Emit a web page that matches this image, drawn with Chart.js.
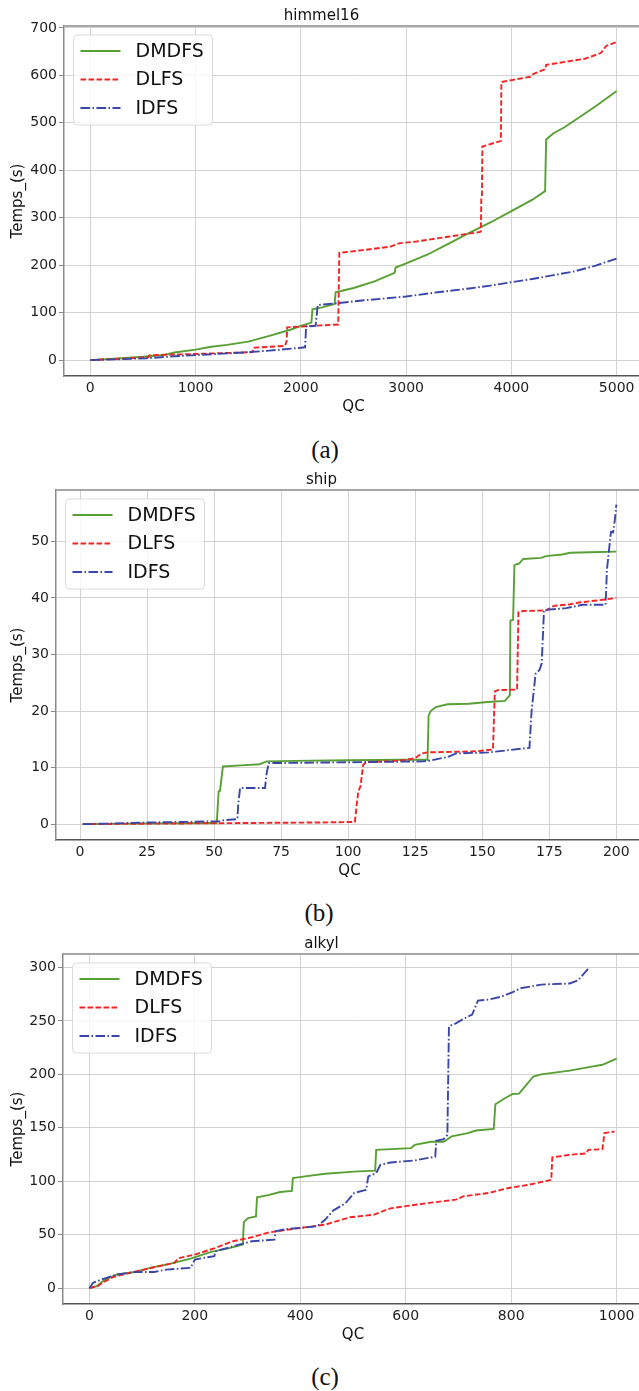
<!DOCTYPE html>
<html>
<head>
<meta charset="utf-8">
<title>himmel16 / ship / alkyl</title>
<script src="https://cdn.jsdelivr.net/npm/chart.js@4.4.1/dist/chart.umd.min.js"></script>
<style>
  html, body { margin: 0; padding: 0; background: #fff; overflow: hidden; }
  body { width: 639px; height: 1391px; position: relative; }
  .plot { position: absolute; left: 0; width: 643px; height: 416px; }
  .caption {
    position: absolute;
    font-family: "Liberation Serif", "DejaVu Serif", serif;
    font-size: 25px;
    color: #111;
    transform: translate(-50%, -50%);
    white-space: nowrap;
  }
</style>
</head>
<body>
<div class="plot" style="top:0px"><canvas id="himmel"></canvas></div>
<div class="caption" style="left:325px;top:450px">(a)</div>
<div class="plot" style="top:464px"><canvas id="ship"></canvas></div>
<div class="caption" style="left:319px;top:913px">(b)</div>
<div class="plot" style="top:928px"><canvas id="alkyl"></canvas></div>
<div class="caption" style="left:325px;top:1377px">(c)</div>

<script>
// ---- himmel16 ----
var himmelXTicks = [0, 1000, 2000, 3000, 4000, 5000];
var himmelYTicks = [0, 100, 200, 300, 400, 500, 600, 700];
var himmelDmdfsQc = [0, 150, 300, 500, 700, 800, 1000, 1150, 1300, 1500, 1700, 1900, 2000, 2100, 2110, 2200, 2320, 2330, 2500, 2700, 2890, 2900, 3000, 3200, 3400, 3600, 3800, 4000, 4200, 4320, 4330, 4400, 4500, 4600, 4800, 5000];
var himmelDmdfsTime = [0, 2, 4, 7, 11, 16, 22, 28, 32, 39, 51, 64, 72, 79, 107, 111, 118, 143, 152, 166, 184, 195, 204, 222, 245, 268, 290, 314, 338, 356, 465, 478, 490, 505, 535, 567];
var himmelDlfsQc = [0, 300, 550, 560, 1000, 1450, 1540, 1550, 1850, 1865, 1870, 2100, 2355, 2365, 2600, 2850, 2930, 3100, 3400, 3700, 3710, 3714, 3720, 3724, 3900, 3905, 4000, 4180, 4210, 4320, 4330, 4700, 4850, 4900, 5000];
var himmelDlfsTime = [0, 3, 6, 10, 13, 16, 17, 26, 30, 40, 69, 72, 75, 226, 232, 239, 246, 250, 260, 270, 271, 340, 345, 450, 462, 586, 590, 597, 603, 613, 622, 635, 647, 662, 670];
var himmelIdfsQc = [0, 300, 534, 800, 1000, 1200, 1462, 1700, 2000, 2040, 2050, 2140, 2160, 2350, 2600, 2800, 3000, 3300, 3600, 3800, 4000, 4200, 4400, 4600, 4800, 5000];
var himmelIdfsTime = [0, 2, 4, 8, 10.5, 13, 16, 20, 26, 27, 71, 72, 116, 120, 126, 130, 134, 143, 151, 157, 164, 171, 179, 187, 199, 214];

// ---- ship ----
var shipXTicks = [0, 25, 50, 75, 100, 125, 150, 175, 200];
var shipYTicks = [0, 10, 20, 30, 40, 50];
var shipDmdfsQc = [1, 20, 50, 51, 51.7, 52.2, 53.3, 60, 67, 69.6, 80, 100, 120, 129.6, 130, 130.8, 132.7, 137, 145, 152, 158.5, 159.5, 160.3, 160.5, 161.5, 162, 163.8, 165.3, 172, 173.7, 179.8, 182.8, 190, 200];
var shipDmdfsTime = [0, 0.1, 0.2, 0.2, 5.8, 5.9, 10.2, 10.4, 10.6, 11.1, 11.2, 11.3, 11.4, 11.4, 19.2, 20, 20.7, 21.2, 21.3, 21.6, 21.8, 22.4, 22.8, 36, 36.1, 45.8, 46.1, 46.9, 47.1, 47.4, 47.7, 48, 48.1, 48.2];
var shipDlfsQc = [1, 30, 60, 90, 102.5, 103.2, 103.8, 104.6, 105.6, 106.8, 115, 122, 125, 127.4, 129.6, 140, 148, 154, 154.7, 155.8, 163, 163.5, 165.3, 173.7, 176.7, 182.8, 186, 193.5, 200];
var shipDlfsTime = [0, 0.1, 0.2, 0.3, 0.4, 3.5, 5.8, 6.7, 10.5, 11, 11.1, 11.4, 11.7, 12.5, 12.7, 12.8, 12.9, 13.2, 23.5, 23.7, 23.8, 37.5, 37.7, 37.8, 38.6, 38.9, 39.2, 39.6, 40];
var shipIdfsQc = [1, 10, 25, 40, 50, 52.5, 53.6, 58.7, 59, 59.7, 69, 69.6, 70.4, 90, 110, 128, 131, 137.2, 140.3, 152.4, 160, 167.6, 168.4, 169.9, 171.4, 172.2, 173, 173.7, 181.3, 187.4, 196, 196.5, 198, 198.8, 199.5, 200];
var shipIdfsTime = [0, 0.1, 0.3, 0.4, 0.5, 0.5, 0.7, 0.9, 3.5, 6.4, 6.4, 9, 10.8, 10.9, 11, 11.1, 11.3, 11.9, 12.5, 12.7, 13.1, 13.5, 20, 26.6, 27.3, 28.5, 37.6, 37.9, 38.2, 38.8, 38.8, 45, 51.7, 51.6, 54, 56.5];

// ---- alkyl ----
var alkylXTicks = [0, 200, 400, 600, 800, 1000];
var alkylYTicks = [0, 50, 100, 150, 200, 250, 300];
var alkylDmdfsQc = [0, 15, 22, 30, 53, 84, 115, 154, 192, 231, 262, 291, 293, 301, 316, 318, 339, 362, 384, 386, 416, 447, 502, 542, 544, 610, 617, 648, 672, 687, 718, 733, 767, 770, 788, 803, 815, 826, 842, 857, 911, 950, 973, 1000];
var alkylDmdfsTime = [0, 2, 5, 8, 12.8, 15, 19, 23, 27.7, 34, 37, 40.8, 62, 65.6, 67, 85, 87, 90, 91, 103, 105, 107, 109, 110, 129.4, 131, 134, 137, 137, 142, 145, 147.5, 149, 172, 177.7, 181.7, 182, 188.5, 198, 200, 203.5, 207, 209, 214.7];
var alkylDlfsQc = [0, 15, 30, 46, 84, 123, 161, 169, 200, 239, 270, 308, 339, 386, 447, 494, 540, 571, 648, 695, 710, 757, 795, 834, 876, 878, 911, 942, 946, 973, 977, 996];
var alkylDlfsTime = [0, 2, 6.5, 10.6, 15.2, 19.6, 23.6, 28, 31.4, 37.6, 43.6, 47.6, 52, 55.4, 59.4, 66.3, 68.8, 74.7, 80, 82.8, 86, 89, 93.7, 96.8, 101.4, 122.3, 124.8, 126, 129.4, 130, 145, 146.5];
var alkylIdfsQc = [0, 7, 22, 53, 84, 123, 146, 192, 200, 216, 237, 239, 277, 308, 351, 353, 370, 432, 447, 463, 486, 502, 525, 529, 544, 552, 571, 617, 656, 658, 672, 679, 682, 695, 710, 726, 737, 757, 780, 803, 818, 857, 911, 927, 946];
var alkylIdfsTime = [0, 5, 8, 12.8, 15, 15.2, 17.4, 19, 26.8, 28.3, 30, 34.5, 39.8, 43.9, 45.4, 53.2, 55, 57.9, 64, 72.8, 79.6, 89, 92, 104.5, 107.7, 115.4, 117.6, 119.5, 123, 137.8, 139.4, 143.4, 245, 247.7, 252, 256, 269, 270, 272.5, 277, 280.6, 284, 285, 288, 298.7];

var seriesNames = ['DMDFS', 'DLFS', 'IDFS'];
var seriesColors = ['#58a033', '#f42424', '#3a46a8'];
var seriesDashes = [[], [5.6, 2.4], [9.6, 2.4, 1.6, 2.4]];

Chart.defaults.font.family = '"DejaVu Sans", sans-serif';
Chart.defaults.color = '#1e1e1e';

function toPoints(qc, time) {
    return qc.map(function (q, i) { return { x: q, y: time[i] }; });
}

// top spine of the axes
var topSpine = {
    id: 'topSpine',
    afterDatasetsDraw: function (chart) {
        var ctx = chart.ctx, a = chart.chartArea;
        ctx.save();
        ctx.strokeStyle = '#a6a6a6';
        ctx.lineWidth = 2;
        ctx.beginPath();
        ctx.moveTo(a.left, a.top);
        ctx.lineTo(a.right, a.top);
        ctx.stroke();
        ctx.restore();
    }
};

// legend box drawn inside the plot, upper left
var legendInside = {
    id: 'legendInside',
    afterDatasetsDraw: function (chart) {
        var ctx = chart.ctx, a = chart.chartArea;
        var left = a.left + 9.5, top = a.top + 9;
        ctx.save();
        ctx.beginPath();
        ctx.roundRect(left, top, 139, 90, 4);
        ctx.fillStyle = 'rgba(255,255,255,0.8)';
        ctx.fill();
        ctx.strokeStyle = '#dadada';
        ctx.lineWidth = 1;
        ctx.stroke();
        chart.data.datasets.forEach(function (ds, i) {
            var y = top + 16 + i * 28.5;
            ctx.beginPath();
            ctx.setLineDash(ds.borderDash);
            ctx.strokeStyle = ds.borderColor;
            ctx.lineWidth = ds.borderWidth;
            ctx.moveTo(left + 7, y);
            ctx.lineTo(left + 47, y);
            ctx.stroke();
            ctx.setLineDash([]);
            ctx.fillStyle = '#111';
            ctx.font = '19px "DejaVu Sans"';
            ctx.textBaseline = 'middle';
            ctx.fillText(ds.label, left + 62, y + 1);
        });
        ctx.restore();
    }
};

function makeChart(id, title, series, xRange, xTicks, yRange, yTicks, yWidth) {
    var datasets = series.map(function (s, i) {
        return {
            label: seriesNames[i],
            data: toPoints(s[0], s[1]),
            borderColor: seriesColors[i],
            borderDash: seriesDashes[i],
            borderWidth: 1.9,
            pointRadius: 0,
            tension: 0,
            fill: false,
            order: 2 - i
        };
    });
    return new Chart(document.getElementById(id), {
        type: 'line',
        data: { datasets: datasets },
        options: {
            responsive: true,
            maintainAspectRatio: false,
            animation: false,
            layout: { padding: 0 },
            plugins: {
                legend: { display: false },
                tooltip: { enabled: false },
                title: {
                    display: true,
                    text: title,
                    color: '#111',
                    font: { size: 15, weight: 'normal' },
                    padding: { top: 7, bottom: 1 }
                }
            },
            scales: {
                x: {
                    type: 'linear',
                    min: xRange[0],
                    max: xRange[1],
                    afterBuildTicks: function (s) { s.ticks = xTicks.map(function (v) { return { value: v }; }); },
                    afterFit: function (s) { s.height = 40; },
                    grid: { color: '#d3d3d3', lineWidth: 1, tickLength: 4, tickColor: 'rgba(0,0,0,0)' },
                    border: { color: '#555', width: 1.5 },
                    ticks: { font: { size: 14 }, padding: 0, maxRotation: 0, autoSkip: false,
                             callback: function (v) { return String(v); } },
                    title: { display: true, text: 'QC', color: '#111', font: { size: 15 },
                             padding: { top: 0, bottom: 0 } }
                },
                y: {
                    type: 'linear',
                    min: yRange[0],
                    max: yRange[1],
                    afterBuildTicks: function (s) { s.ticks = yTicks.map(function (v) { return { value: v }; }); },
                    afterFit: function (s) { s.width = yWidth; },
                    grid: { color: '#d3d3d3', lineWidth: 1, tickLength: 5, tickColor: '#888' },
                    border: { color: '#8a8a8a', width: 1.5 },
                    ticks: { font: { size: 14 }, padding: 2,
                             callback: function (v) { return String(v); } },
                    title: { display: true, text: 'Temps_(s)', color: '#111', font: { size: 15 },
                             padding: { top: 9, bottom: 0 } }
                }
            }
        },
        plugins: [topSpine, legendInside]
    });
}

makeChart('himmel', 'himmel16',
    [[himmelDmdfsQc, himmelDmdfsTime], [himmelDlfsQc, himmelDlfsTime], [himmelIdfsQc, himmelIdfsTime]],
    [-250, 5250], himmelXTicks, [-33.5, 704], himmelYTicks, 64);

makeChart('ship', 'ship',
    [[shipDmdfsQc, shipDmdfsTime], [shipDlfsQc, shipDlfsTime], [shipIdfsQc, shipIdfsTime]],
    [-8.95, 209.95], shipXTicks, [-2.8, 59.1], shipYTicks, 56);

makeChart('alkyl', 'alkyl',
    [[alkylDmdfsQc, alkylDmdfsTime], [alkylDlfsQc, alkylDlfsTime], [alkylIdfsQc, alkylIdfsTime]],
    [-50, 1050], alkylXTicks, [-14.8, 312.6], alkylYTicks, 63);
</script>
</body>
</html>
